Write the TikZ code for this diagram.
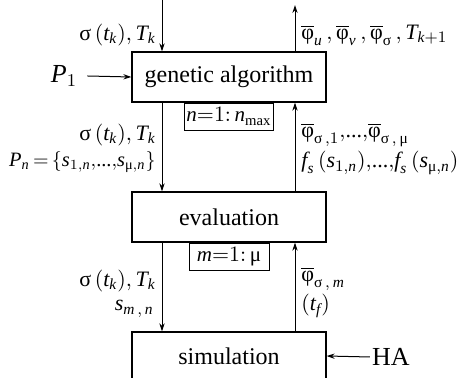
\documentclass[tikz,border=0pt]{standalone}
\usepackage{amsmath}
\usepackage{fontspec}
\setmainfont{Liberation Serif}
\usetikzlibrary{arrows.meta,positioning}
\newcommand{\tv}[1]{\text{\itshape #1}}
\newcommand{\tg}[1]{\text{\upshape #1}}
\newcommand{\tdots}{\text{...}}
\tikzset{
    block/.style={rectangle, draw, line width=0.6pt, minimum width=97pt, minimum height=25pt, align=center, font=\fontsize{12}{14}\selectfont},
    loopbox/.style={rectangle, draw, line width=0.5pt, inner sep=1pt, minimum width=40pt, minimum height=13.5pt, font=\fontsize{10.5}{12}\selectfont},
    lbl/.style={font=\fontsize{11}{13}\selectfont, inner sep=0pt},
    src/.style={font=\fontsize{13}{15}\selectfont, inner sep=1pt},
    flow/.style={-{Stealth[length=4pt, width=2.6pt]}, line width=0.5pt},
}

\begin{document}
\begin{tikzpicture}[x=0.5pt, y=-0.5pt]
    \useasboundingbox (0,0) rectangle (461,378);

    % main chain
    \node[block] (ga) at (229,77) {genetic algorithm};
    \node[loopbox, below=0pt of ga] (nloop) {$\tv{n}{=}1{:}\,\tv{n}_{\text{max}}$};
    \node[block] (eval) at (229,217) {evaluation};
    \node[loopbox, below=0pt of eval] (mloop) {$\tv{m}{=}1{:}\,\tg{μ}$};
    \node[block, minimum height=24pt] (sim) at (229,356) {simulation};

    % outside inputs
    \node[src] (pone) at (64,76) {$\tv{P}_1$};
    \node[src] (ha) at (391,357) {HA};

    \coordinate (lx) at (162,0);
    \coordinate (rx) at (295,5);

    % downward flow
    \draw[flow] (lx) -- (lx |- ga.north);
    \draw[flow] (lx |- ga.south) -- (lx |- eval.north);
    \draw[flow] (lx |- eval.south) -- (lx |- sim.north);
    % upward flow
    \draw[flow] (rx |- ga.north) -- (rx);
    \draw[flow] (rx |- eval.north) -- (rx |- ga.south);
    \draw[flow] (rx |- sim.north) -- (rx |- eval.south);
    % side inputs
    \draw[flow] (pone.east) ++(8,0) -- (ga.west);
    \draw[flow] (ha.west) -- (sim.east);

    % labels
    \node[lbl, anchor=east] (l1) at (156,35) {$\tg{σ}\,(\tv{t}_{\tv{k}}), \tv{T}_{\tv{k}}$};
    \node[lbl, anchor=west] (r1) at (301,35) {$\overline{\tg{φ}}_{\tv{u}}\,, \overline{\tg{φ}}_{\tv{v}}\,, \overline{\tg{φ}}_{\tg{σ}}\,, \tv{T}_{\tv{k}+1}$};
    \node[lbl, anchor=east] (l2) at (156,135) {$\tg{σ}\,(\tv{t}_{\tv{k}}), \tv{T}_{\tv{k}}$};
    \node[lbl, anchor=east, font=\fontsize{10.2}{12}\selectfont] (l3) at (156,162) {$\tv{P}_{\tv{n}}\,{=}\,\{\tv{s}_{1{,}\tv{n}}{,}\tdots{,}\tv{s}_{\tg{μ}{,}\tv{n}}\}$};
    \node[lbl, anchor=west] (r2) at (301,135) {$\overline{\tg{φ}}_{\tg{σ}\,{,}1}{,}\tdots{,}\overline{\tg{φ}}_{\tg{σ}\,{,}\,\tg{μ}}$};
    \node[lbl, anchor=west] (r3) at (301,163) {$\tv{f}_{\tv{s}}\,(\tv{s}_{1{,}\tv{n}}){,}\tdots{,}\tv{f}_{\tv{s}}\,(\tv{s}_{\tg{μ}{,}\tv{n}})$};
    \node[lbl, anchor=east] (l4) at (156,281) {$\tg{σ}\,(\tv{t}_{\tv{k}}), \tv{T}_{\tv{k}}$};
    \node[lbl, anchor=east] (l5) at (154,309) {$\tv{s}_{\tv{m}\,{,}\,\tv{n}}$};
    \node[lbl, anchor=west] (r4) at (301,279) {$\overline{\tg{φ}}_{\tg{σ}\,{,}\,\tv{m}}$};
    \node[lbl, anchor=west] (r5) at (301,306) {$(\tv{t}_{\tv{f}})$};
\end{tikzpicture}
\end{document}
